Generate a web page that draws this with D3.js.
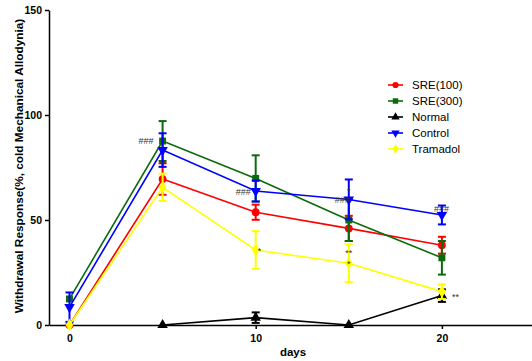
<!DOCTYPE html>
<html>
<head>
<meta charset="utf-8">
<script src="https://cdn.jsdelivr.net/npm/d3@7"></script>
<style>
  body { margin: 0; background: #fff; }
  svg { display: block; }
  text { font-family: "Liberation Sans", Arial, sans-serif; }
</style>
</head>
<body>
<div id="chart"></div>
<script>
// withdrawal response over days, mean +/- error per group

const days = [0, 5, 10, 15, 20];
const seriesNames = ['SRE(100)', 'SRE(300)', 'Normal', 'Control', 'Tramadol'];

const sre100 = [0, 69.5, 53.7, 46, 38];
const sre100Err = [0, 7.5, 3.6, 6, 4];
const sre300 = [12.4, 87.6, 69.8, 50, 32];
const sre300Err = [0, 9.5, 11, 10, 8];
const normal = [null, 0, 3.5, 0, 14];
const normalErr = [null, 0, 2.5, 0, 3];
const control = [8.5, 83.3, 63.8, 59.8, 52.4];
const controlErr = [7, 8, 5, 9.5, 4.5];
const tramadol = [0, 65.6, 35.7, 29.4, 15.9];
const tramadolErr = [0, 6.5, 9, 9, 3.5];

const xTicks = [0, 10, 20];
const yTicks = [0, 50, 100, 150];

// significance marks: [day, value, text, dx]
const marks = [
  [5, 88, '###', -24],
  [10, 63.8, '###', -20],
  [15, 59.8, '###', -14],
  [20, 55.5, '###', -8],
  [5, 77, '**', 0],
  [10, 35.7, '*', 2],
  [15, 64.5, '*', 0],
  [15, 35, '**', 0],
  [15, 29.4, '*', 0],
  [20, 14, '**', 10]
];

const series = [
  { name: seriesNames[0], values: sre100, err: sre100Err, color: '#ff0000', shape: d3.symbolCircle },
  { name: seriesNames[1], values: sre300, err: sre300Err, color: '#0b6b0b', shape: d3.symbolSquare },
  { name: seriesNames[2], values: normal, err: normalErr, color: '#000000', shape: d3.symbolTriangle },
  { name: seriesNames[3], values: control, err: controlErr, color: '#0000ff', shape: d3.symbolTriangle, flip: true },
  { name: seriesNames[4], values: tramadol, err: tramadolErr, color: '#ffff00', shape: d3.symbolDiamond }
];

const width = 532, height = 361;

const svg = d3.select('#chart')
  .append('svg')
  .attr('width', width)
  .attr('height', height);

const x = d3.scaleLinear().domain([-1.1, 25]).range([49, 535]);
const y = d3.scaleLinear().domain([0, 150]).range([325, 10]);

// axes
const xAxis = svg.append('g')
  .attr('transform', `translate(0,${y(0)})`)
  .call(d3.axisBottom(x).tickValues(xTicks).tickSize(4).tickSizeOuter(0));

const yAxis = svg.append('g')
  .attr('transform', `translate(${x(-1.1)},0)`)
  .call(d3.axisLeft(y).tickValues(yTicks).tickSize(4).tickSizeOuter(0));

[xAxis, yAxis].forEach(a => {
  a.select('.domain').attr('stroke', '#000').attr('stroke-width', 1.5);
  a.selectAll('.tick line').attr('stroke', '#000').attr('stroke-width', 1.5);
  a.selectAll('.tick text')
    .attr('font-size', 10.5)
    .attr('font-weight', 'bold')
    .attr('fill', '#000')
    .attr('font-family', '"Liberation Sans", Arial, sans-serif');
});
xAxis.selectAll('.tick text').attr('dy', '0.95em');

svg.append('text')
  .attr('x', 293)
  .attr('y', 356)
  .attr('text-anchor', 'middle')
  .attr('font-size', 11.5)
  .attr('font-weight', 'bold')
  .text('days');

svg.append('text')
  .attr('transform', 'rotate(-90)')
  .attr('x', -166)
  .attr('y', 23)
  .attr('text-anchor', 'middle')
  .attr('font-size', 11.8)
  .attr('font-weight', 'bold')
  .text('Withdrawal Response(%, cold Mechanical Allodynia)');

const line = d3.line()
  .defined(d => d.v !== null)
  .x(d => x(d.day))
  .y(d => y(d.v));

const symbol = (s, size) => d3.symbol().type(s.shape).size(size)();

series.forEach(s => {
  const pts = days.map((day, i) => ({ day, v: s.values[i], e: s.err[i] }))
    .filter(d => d.v !== null);
  const g = svg.append('g');

  g.append('path')
    .datum(pts)
    .attr('fill', 'none')
    .attr('stroke', s.color)
    .attr('stroke-width', 1.6)
    .attr('d', line);

  // error bars
  pts.filter(d => d.e > 0).forEach(d => {
    const cx = x(d.day);
    g.append('line')
      .attr('x1', cx).attr('x2', cx)
      .attr('y1', y(d.v + d.e)).attr('y2', y(d.v - d.e))
      .attr('stroke', s.color).attr('stroke-width', 2);
    [d.v + d.e, d.v - d.e].forEach(v => {
      g.append('line')
        .attr('x1', cx - 4).attr('x2', cx + 4)
        .attr('y1', y(v)).attr('y2', y(v))
        .attr('stroke', s.color).attr('stroke-width', 2);
    });
  });

  g.selectAll('path.pt')
    .data(pts)
    .enter()
    .append('path')
    .attr('class', 'pt')
    .attr('d', symbol(s, 48))
    .attr('fill', s.color)
    .attr('transform', d => `translate(${x(d.day)},${y(d.v)})${s.flip ? ' rotate(180)' : ''}`);
});

// significance marks
svg.selectAll('text.mark')
  .data(marks)
  .enter()
  .append('text')
  .attr('class', 'mark')
  .attr('x', d => x(d[0]) + d[3])
  .attr('y', d => y(d[1]) + 4)
  .attr('text-anchor', d => d[3] === 0 ? 'middle' : 'start')
  .attr('font-size', 9)
  .attr('fill', '#333')
  .text(d => d[2]);

// legend
const legend = svg.append('g').attr('transform', 'translate(388,85)');
series.forEach((s, i) => {
  const ly = i * 16;
  legend.append('line')
    .attr('x1', 0).attr('x2', 15)
    .attr('y1', ly).attr('y2', ly)
    .attr('stroke', s.color).attr('stroke-width', 1.6);
  legend.append('path')
    .attr('d', symbol(s, 30))
    .attr('fill', s.color)
    .attr('transform', `translate(7.5,${ly})${s.flip ? ' rotate(180)' : ''}`);
  legend.append('text')
    .attr('x', 24)
    .attr('y', ly + 4)
    .attr('font-size', 11.5)
    .attr('fill', '#000')
    .text(s.name);
});
</script>
</body>
</html>
